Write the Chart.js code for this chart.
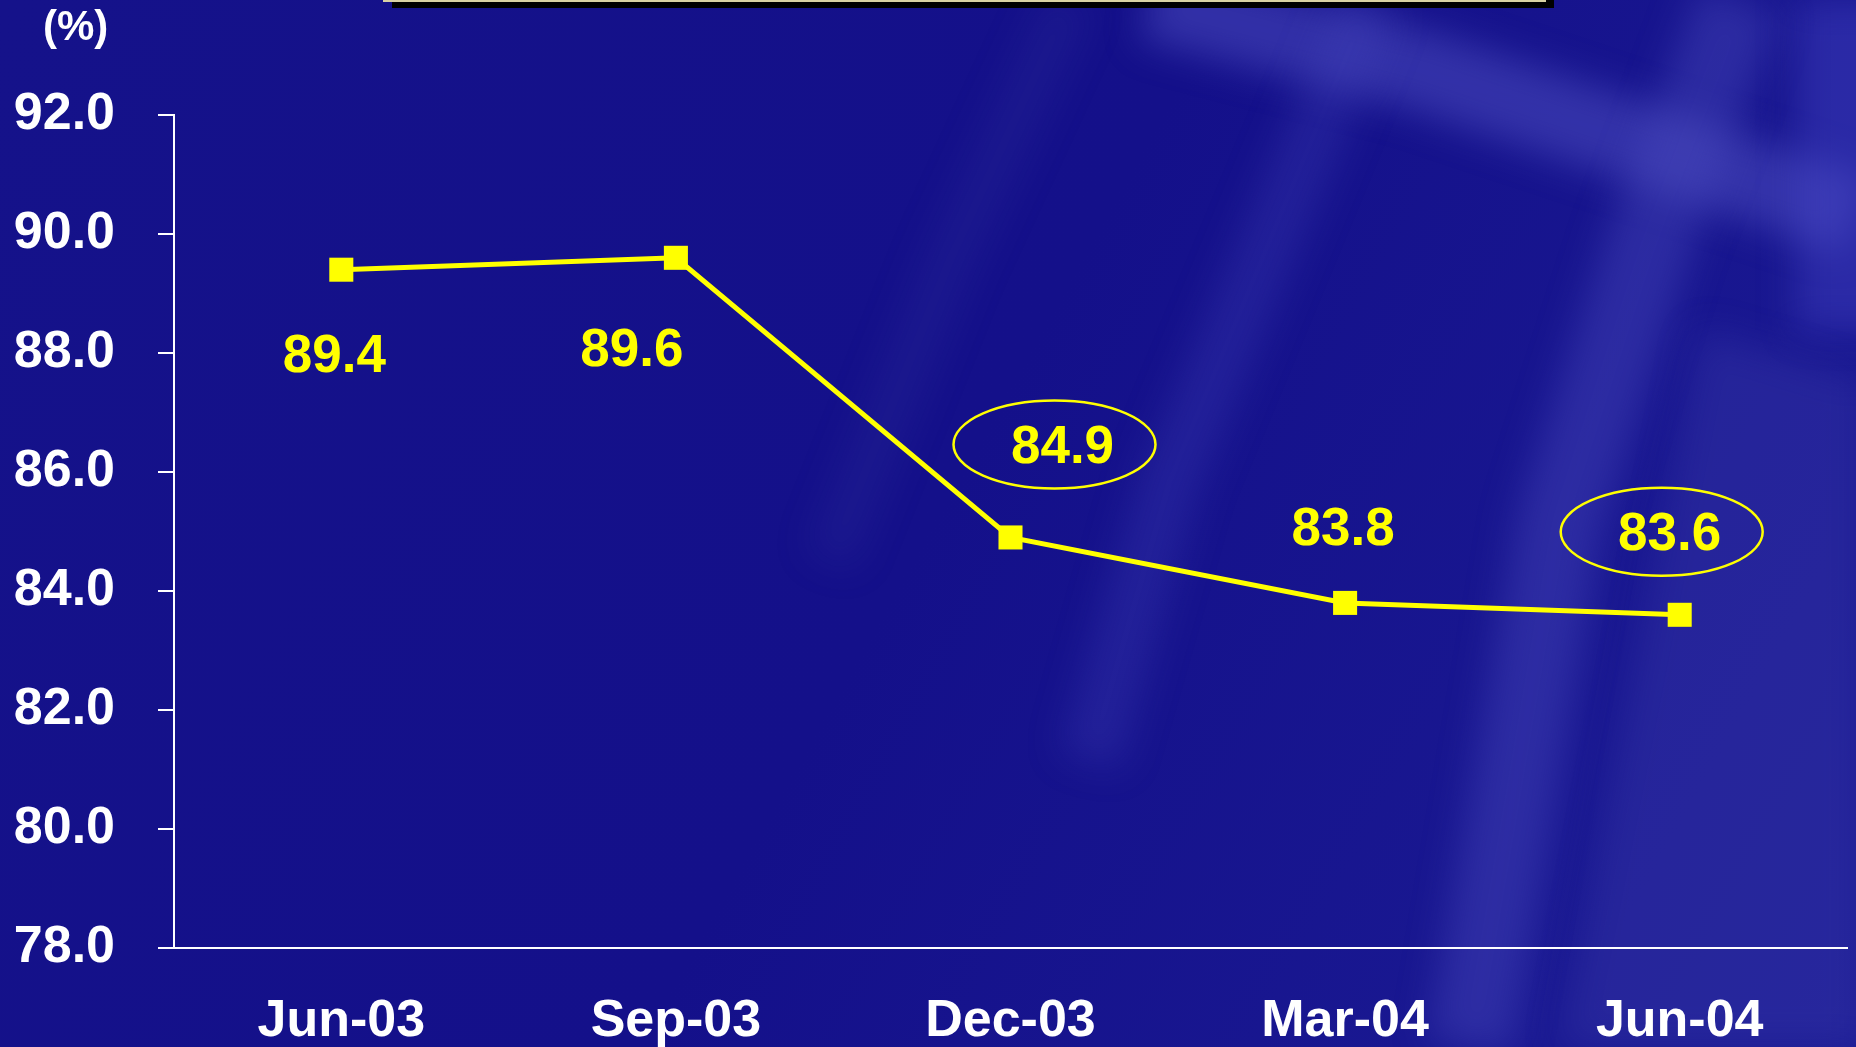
<!DOCTYPE html>
<html>
<head>
<meta charset="utf-8">
<title>Ratio (%)</title>
<script src="https://cdn.jsdelivr.net/npm/chart.js@4/dist/chart.umd.min.js"></script>
<style>
  html, body { margin: 0; padding: 0; overflow: hidden; background: #16138a; }
  #wrap { position: relative; width: 1856px; height: 1047px; overflow: hidden; }
  #chart { position: absolute; left: 0; top: 0; }
  .bar-shadow { position: absolute; left: 392px; top: 0; width: 1162px; height: 8px; background: #000; }
  .bar-line { position: absolute; left: 383px; top: 0; width: 1163px; height: 2px; background: #d9d2a4; }
  .unit { position: absolute; left: 43px; top: 2px; font: bold 42px "Liberation Sans", Arial, sans-serif; color: #fff; }
</style>
</head>
<body>
<div id="wrap">
  <!-- canvas un poco más ancho que la ventana: el área del gráfico llega hasta x=1847 -->
  <canvas id="chart" width="1864" height="1047"></canvas>
  <div class="bar-shadow"></div>
  <div class="bar-line"></div>
  <div class="unit">(%)</div>
</div>
<script>
// Datos
const categories = ["Jun-03", "Sep-03", "Dec-03", "Mar-04", "Jun-04"];
const values = [89.4, 89.6, 84.9, 83.8, 83.6];
const yMin = 78, yMax = 92, yStep = 2;
const circled = [false, false, true, false, true];

// desplazamiento de las etiquetas respecto al punto (px)
const labelDx = [-7, -44, 52, -2, -10];
const labelDy = [86, 92, -91, -75, -81];

const FONT = '"Liberation Sans", Arial, sans-serif';
const YELLOW = "#ffff00";

// Fondo azul con bandas difusas
const bgPlugin = {
    id: "bg",
    beforeDraw(chart){
        const ctx = chart.ctx, w = chart.width, h = chart.height;
        ctx.save();
        const g = ctx.createLinearGradient(0, 0, w, h);
        g.addColorStop(0, "#15128a");
        g.addColorStop(0.5, "#14108a");
        g.addColorStop(1, "#1c1c95");
        ctx.fillStyle = g; ctx.fillRect(0, 0, w, h);

        ctx.filter = "blur(18px)";
        ctx.lineCap = "butt";
        const band = (pts, width, col) => {
            ctx.strokeStyle = col; ctx.lineWidth = width;
            ctx.beginPath(); ctx.moveTo(pts[0][0], pts[0][1]);
            for (let i = 1; i < pts.length; i++) ctx.lineTo(pts[i][0], pts[i][1]);
            ctx.stroke();
        };
        band([[1150, 0], [1420, 70], [1856, 215]], 80, "rgba(80,80,195,0.5)");
        band([[1370, 0], [1270, 240], [1170, 480], [1090, 760]], 60, "rgba(70,70,185,0.28)");
        band([[1740, 0], [1650, 240], [1560, 520], [1470, 1047]], 85, "rgba(75,75,190,0.4)");
        band([[1070, 0], [950, 260], [830, 560]], 50, "rgba(70,70,170,0.15)");
        band([[1856, 0], [1856, 330]], 120, "rgba(70,70,200,0.4)");
        ctx.fillStyle = "rgba(65,65,175,0.3)";
        ctx.beginPath();
        ctx.moveTo(1700, 330); ctx.lineTo(1864, 380); ctx.lineTo(1864, 1047); ctx.lineTo(1560, 1047);
        ctx.closePath(); ctx.fill();
        ctx.restore();
    }
};

// Etiquetas de valor y elipses
const labelPlugin = {
    id: "valueLabels",
    afterDatasetsDraw(chart){
        const ctx = chart.ctx;
        const pts = chart.getDatasetMeta(0).data;
        ctx.save();
        ctx.font = "bold 53px " + FONT;
        ctx.fillStyle = YELLOW;
        ctx.strokeStyle = YELLOW;
        ctx.textAlign = "center";
        ctx.textBaseline = "middle";
        pts.forEach((p, i) => {
            const x = p.x + labelDx[i], y = p.y + labelDy[i];
            ctx.fillText(values[i].toFixed(1), x, y + 2);
            if (circled[i]) {
                ctx.lineWidth = 2.5;
                ctx.beginPath();
                ctx.ellipse(x - 8, y - 2, 101, 44, 0, 0, Math.PI * 2);
                ctx.stroke();
            }
        });
        ctx.restore();
    }
};

new Chart(document.getElementById("chart").getContext("2d"), {
    type: "line",
    data: {
        labels: categories,
        datasets: [{
            data: values,
            borderColor: YELLOW,
            backgroundColor: YELLOW,
            borderWidth: 5,
            pointStyle: "rect",
            pointRadius: 17,
            pointBorderWidth: 0,
            pointBackgroundColor: YELLOW,
            tension: 0
        }]
    },
    options: {
        responsive: false,
        animation: false,
        events: [],
        layout: { padding: { top: 115, right: 0, left: 0, bottom: 0 } },
        plugins: { legend: { display: false }, tooltip: { enabled: false } },
        scales: {
            x: {
                offset: true,
                grid: { display: false, drawTicks: false },
                border: { display: true, color: "#ffffff", width: 2 },
                ticks: { color: "#ffffff", font: { family: FONT, size: 52, weight: "bold" }, padding: 42, maxRotation: 0 },
                afterFit(scale){ scale.height = 99; scale.paddingLeft = 0; scale.paddingRight = 0; }
            },
            y: {
                min: yMin, max: yMax,
                grid: { drawOnChartArea: false, drawTicks: true, tickLength: 16, color: "#ffffff", lineWidth: 2 },
                border: { display: true, color: "#ffffff", width: 2 },
                ticks: {
                    stepSize: yStep,
                    color: "#ffffff",
                    padding: 43,
                    font: { family: FONT, size: 52, weight: "bold" },
                    callback: v => Number(v).toFixed(1)
                },
                afterFit(scale){ scale.width = 174; }
            }
        }
    },
    plugins: [bgPlugin, labelPlugin]
});
</script>
</body>
</html>
